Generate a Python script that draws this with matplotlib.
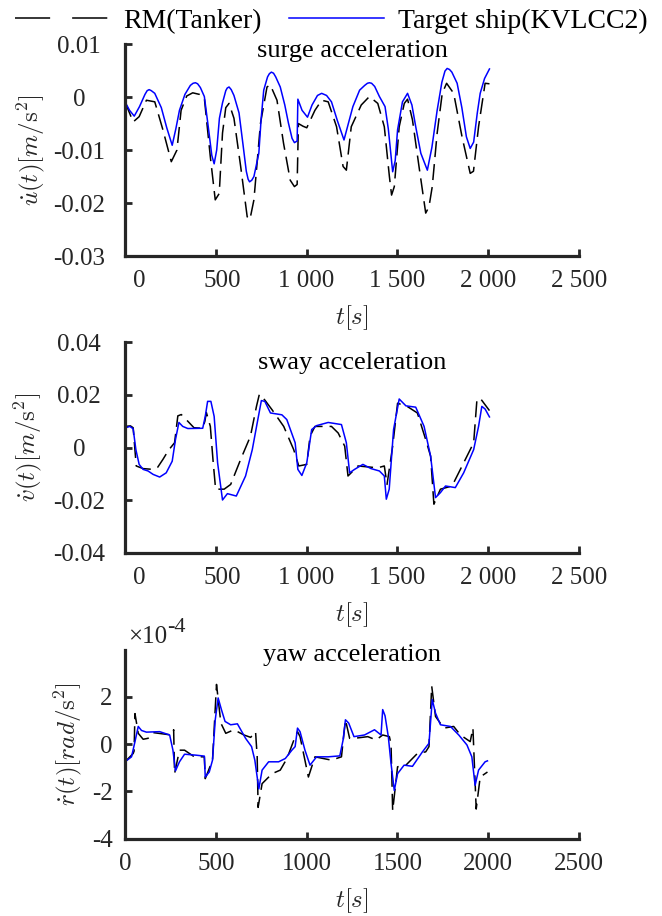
import numpy as np
import matplotlib
matplotlib.use('Agg')
import matplotlib.pyplot as plt
from matplotlib.lines import Line2D
from matplotlib.transforms import ScaledTranslation

plt.rcParams['font.family'] = 'serif'
plt.rcParams['font.serif'] = ['Liberation Serif', 'DejaVu Serif']
plt.rcParams['mathtext.fontset'] = 'cm'
plt.rcParams['axes.unicode_minus'] = False

# surge acceleration [m/s^2]
surge_t_rm = [0, 45, 78, 118, 164, 209, 255, 286, 309, 340, 373, 410, 437, 470, 497, 519, 537, 555, 573, 600,
              637, 673, 688, 710, 746, 782, 800, 837, 873, 910, 933, 948, 955, 980, 1001, 1046, 1083, 1119, 1165, 1201,
              1219, 1246, 1301, 1346, 1392, 1428, 1456, 1468, 1483, 1510, 1538, 1556, 1583, 1619, 1656, 1674, 1692, 1719, 1747, 1771,
              1810, 1856, 1901, 1919, 1947, 1983, 2007]
surge_rm = [-0.0009, -0.0047, -0.0037, -0.0006, -0.0009, -0.0062, -0.0122, -0.0100, -0.0025, 0.0002,
            0.0008, 0.0005, -0.0002, -0.0113, -0.0194, -0.0182, -0.0068, -0.0020, -0.0012, -0.0040,
            -0.0131, -0.0226, -0.0231, -0.0194, -0.0050, 0.0019, 0.0023, -0.0006, -0.0087, -0.0157,
            -0.0169, -0.0165, -0.0050, -0.0055, -0.0058, -0.0025, -0.0006, -0.0009, -0.0056, -0.0131,
            -0.0138, -0.0056, -0.0015, 0.0001, -0.0012, -0.0056, -0.0150, -0.0185, -0.0169, -0.0056,
            -0.0012, -0.0004, -0.0043, -0.0131, -0.0219, -0.0207, -0.0169, -0.0068, 0.0007, 0.0026,
            0.0007, -0.0075, -0.0144, -0.0140, -0.0056, 0.0026, 0.0025]
surge_t_ks = [0, 25, 51, 80, 110, 122, 133, 145, 164, 200, 230, 260, 280, 300, 330, 360, 375, 388, 400, 415,
              437, 460, 478, 491, 505, 520, 537, 555, 563, 573, 585, 600, 628, 650, 668, 678, 686, 698, 710, 737,
              750, 764, 785, 795, 806, 818, 830, 855, 880, 900, 920, 933, 948, 952, 975, 1005, 1030, 1060, 1083, 1110,
              1137, 1170, 1206, 1230, 1255, 1292, 1320, 1335, 1346, 1358, 1375, 1401, 1432, 1450, 1474, 1488, 1501, 1528, 1556, 1580,
              1601, 1629, 1665, 1690, 1719, 1745, 1762, 1774, 1787, 1800, 1829, 1855, 1880, 1901, 1920, 1940, 1956, 1980, 2007]
surge_ks = [-0.0009, -0.0025, -0.0036, -0.0018, 0.0005, 0.0012, 0.0014, 0.0012, 0.0007, -0.0020,
            -0.0058, -0.0091, -0.0060, -0.0025, 0.0005, 0.0022, 0.0026, 0.0027, 0.0025, 0.0018,
            0.0001, -0.0060, -0.0110, -0.0126, -0.0100, -0.0040, -0.0011, 0.0012, 0.0017, 0.0019,
            0.0014, 0.0003, -0.0030, -0.0090, -0.0140, -0.0155, -0.0160, -0.0157, -0.0150, -0.0106,
            -0.0040, 0.0013, 0.0038, 0.0044, 0.0047, 0.0045, 0.0038, 0.0019, -0.0015, -0.0049,
            -0.0078, -0.0086, -0.0083, -0.0004, -0.0025, -0.0038, -0.0015, 0.0003, 0.0007, 0.0003,
            -0.0009, -0.0045, -0.0081, -0.0050, -0.0018, 0.0013, 0.0022, 0.0026, 0.0027, 0.0026,
            0.0020, 0.0001, -0.0018, -0.0060, -0.0141, -0.0120, -0.0062, -0.0009, 0.0007, -0.0015,
            -0.0056, -0.0106, -0.0138, -0.0095, -0.0025, 0.0028, 0.0049, 0.0054, 0.0052, 0.0047,
            0.0026, -0.0020, -0.0075, -0.0097, -0.0085, -0.0030, 0.0007, 0.0035, 0.0053]

# sway acceleration [m/s^2]
sway_t_rm = [0, 30, 45, 62, 100, 155, 180, 209, 240, 273, 291, 310, 337, 380, 428, 440, 448, 470, 485, 499,
             546, 582, 637, 691, 724, 740, 770, 810, 874, 929, 957, 1001, 1019, 1046, 1137, 1174, 1210, 1228, 1283, 1392,
             1428, 1443, 1474, 1501, 1556, 1610, 1656, 1683, 1701, 1737, 1801, 1865, 1920, 1938, 1956, 2007]
sway_rm = [0.0080, 0.0082, 0.0075, -0.0070, -0.0080, -0.0083, -0.0075, -0.0045, -0.0010, 0.0018,
           0.0120, 0.0125, 0.0106, 0.0075, 0.0073, 0.0100, 0.0133, 0.0080, -0.0050, -0.0158,
           -0.0158, -0.0140, -0.0045, 0.0043, 0.0156, 0.0202, 0.0180, 0.0143, 0.0080, -0.0008,
           -0.0070, -0.0064, 0.0043, 0.0080, 0.0080, 0.0055, 0.0005, -0.0108, -0.0070, -0.0077,
           -0.0070, -0.0140, 0.0005, 0.0168, 0.0155, 0.0131, 0.0030, -0.0033, -0.0215, -0.0158,
           -0.0146, -0.0058, 0.0018, 0.0181, 0.0187, 0.0140]
sway_t_ks = [0, 27, 45, 60, 78, 100, 127, 155, 191, 227, 260, 278, 297, 318, 346, 428, 442, 455, 473, 491,
             510, 537, 564, 613, 664, 701, 728, 751, 770, 801, 864, 891, 937, 952, 974, 1001, 1028, 1055, 1119, 1192,
             1219, 1237, 1264, 1310, 1355, 1401, 1428, 1439, 1455, 1479, 1510, 1547, 1601, 1647, 1683, 1710, 1737, 1765, 1819, 1865,
             1920, 1947, 1965, 1983, 2007]
sway_ks = [0.0074, 0.0080, 0.0071, -0.0008, -0.0064, -0.0083, -0.0089, -0.0102, -0.0112, -0.0096,
           -0.0052, 0.0030, 0.0095, 0.0080, 0.0072, 0.0073, 0.0118, 0.0175, 0.0175, 0.0118,
           -0.0058, -0.0199, -0.0175, -0.0184, -0.0108, -0.0008, 0.0093, 0.0178, 0.0175, 0.0131,
           0.0124, 0.0106, 0.0018, -0.0083, -0.0106, -0.0058, 0.0068, 0.0083, 0.0095, 0.0087,
           0.0018, -0.0096, -0.0083, -0.0064, -0.0080, -0.0089, -0.0108, -0.0196, -0.0158, 0.0068,
           0.0184, 0.0158, 0.0153, 0.0080, -0.0033, -0.0190, -0.0171, -0.0146, -0.0152, -0.0096,
           -0.0008, 0.0080, 0.0156, 0.0146, 0.0116]

# yaw acceleration, in units of 1e-4 rad/s^2
yaw_t_rm = [0, 45, 50, 55, 73, 100, 127, 155, 255, 265, 268, 273, 300, 328, 382, 437, 442, 482, 504, 528,
            555, 600, 655, 692, 719, 728, 733, 755, 810, 855, 892, 937, 950, 964, 1010, 1046, 1137, 1192, 1214, 1237,
            1264, 1337, 1383, 1419, 1456, 1465, 1474, 1501, 1547, 1610, 1656, 1674, 1689, 1710, 1756, 1810, 1847, 1901, 1916, 1923,
            1934, 1956, 1996]
yaw_rm = [-0.75, -0.40, -0.30, 1.28, 0.45, 0.20, 0.24, 0.48, 0.38, 0.45,
          0.60, -1.25, -0.26, -0.26, -0.54, -0.54, -1.46, -0.68, 2.51, 0.88,
          0.45, 0.60, 0.38, 0.28, 0.52, -0.54, -2.67, -1.67, -1.25, -1.10,
          -0.61, 0.31, 0.52, 0.31, -1.39, -0.54, -0.68, -0.54, 1.02, 0.24,
          0.24, 0.31, 0.17, 0.38, 0.31, 0.00, -2.81, -0.96, -0.89, -0.40,
          -0.33, -0.11, 2.44, 1.16, 0.67, 0.74, 0.38, 0.10, 0.67, -0.68,
          -2.74, -1.39, -1.18]
yaw_t_ks = [0, 36, 55, 73, 91, 118, 191, 246, 264, 278, 300, 328, 391, 437, 442, 464, 482, 497, 513, 531,
            551, 582, 619, 664, 697, 715, 737, 755, 791, 846, 883, 919, 937, 950, 964, 991, 1019, 1055, 1119, 1183,
            1201, 1214, 1232, 1261, 1319, 1374, 1410, 1419, 1432, 1450, 1465, 1483, 1501, 1537, 1583, 1638, 1674, 1692, 1710, 1737,
            1792, 1838, 1883, 1910, 1928, 1947, 1983, 1996]
yaw_ks = [-0.75, -0.54, 0.10, 0.74, 0.57, 0.50, 0.52, 0.38, -0.26, -1.13,
          -0.75, -0.43, -0.47, -0.51, -1.39, -1.18, -0.68, 1.02, 1.94, 1.45,
          0.95, 0.81, 0.85, 0.24, -0.11, -0.68, -1.89, -1.10, -0.75, -0.75,
          -0.61, -0.26, -0.11, 0.67, 0.52, -0.26, -0.89, -0.54, -0.54, -0.50,
          0.17, 1.02, 0.88, 0.31, 0.38, 0.60, 0.38, 1.45, 1.19, 0.31,
          -0.82, -1.96, -1.25, -0.89, -0.94, -0.33, 0.03, 1.87, 1.30, 0.81,
          0.74, 0.38, -0.04, -0.54, -1.74, -1.10, -0.75, -0.71]

x_ticks = [0, 500, 1000, 1500, 2000, 2500]
x_labels_sp = ['0', '500', '1 000', '1 500', '2 000', '2 500']
x_labels = ['0', '500', '1000', '1500', '2000', '2500']

fs = 18
ink = '#262626'
lw = 1.1
dash = (10.5, 4.6)

fig = plt.figure(figsize=(6.62, 9.16), dpi=100)
ax1 = fig.add_axes([0.1888, 0.7205, 0.6858, 0.2314])
ax2 = fig.add_axes([0.1888, 0.3963, 0.6858, 0.2303])
ax3 = fig.add_axes([0.1888, 0.0841, 0.6858, 0.2063])


def style(ax):
    for s in ['top', 'right']:
        ax.spines[s].set_visible(False)
    for s in ['left', 'bottom']:
        ax.spines[s].set_linewidth(2.3)
        ax.spines[s].set_color(ink)
    ax.tick_params(direction='in', length=5, width=2, colors=ink, labelsize=fs)
    ax.tick_params(axis='x', pad=10)
    ax.set_xlim(0, 2500)


ax1.plot(surge_t_rm, surge_rm, color='black', lw=lw, dashes=dash)
ax1.plot(surge_t_ks, surge_ks, color='#0000ff', lw=lw)
ax2.plot(sway_t_rm, sway_rm, color='black', lw=lw, dashes=dash)
ax2.plot(sway_t_ks, sway_ks, color='#0000ff', lw=lw)
ax3.plot(yaw_t_rm, np.array(yaw_rm) * 1e-4, color='black', lw=lw, dashes=dash)
ax3.plot(yaw_t_ks, np.array(yaw_ks) * 1e-4, color='#0000ff', lw=lw)

for ax in (ax1, ax2, ax3):
    style(ax)

ax1.set_ylim(-0.03, 0.01)
ax1.set_yticks([-0.03, -0.02, -0.01, 0, 0.01], ['-0.03', '-0.02', '-0.01', '0', '0.01'])
ax2.set_ylim(-0.04, 0.04)
ax2.set_yticks([-0.04, -0.02, 0, 0.02, 0.04], ['-0.04', '-0.02', '0', '0.02', '0.04'])
ax3.set_ylim(-4e-4, 3.96e-4)
ax3.set_yticks([-4e-4, -2e-4, 0, 2e-4], ['-4', '-2', '0', '2'])

# exponent marker above the yaw axis
exp_base = ax3.text(0.006, 1.012, '\u00d710', transform=ax3.transAxes, ha='left', va='bottom',
                    fontsize=fs, color=ink)
ax3.annotate('-4', xy=(1, 0.5), xycoords=exp_base, ha='left', va='bottom', fontsize=16, color=ink)

for ax in (ax1, ax2):
    ax.set_xticks(x_ticks, x_labels_sp)
    ax.tick_params(axis='y', pad=33)
    for lab in ax.get_yticklabels():
        lab.set_horizontalalignment('center')
    # the first two labels sit a little to the right in the original
    for lab, dx in zip(ax.get_xticklabels(), [10, 5, 0, 0, 0, 0]):
        lab.set_transform(lab.get_transform() + ScaledTranslation(dx / 72, 0, fig.dpi_scale_trans))
ax3.set_xticks(x_ticks, x_labels)
ax3.tick_params(axis='y', pad=9)

titles = ['surge acceleration', 'sway acceleration', 'yaw acceleration']
title_y = [0.967, 0.90, 0.974]
ylabels = [r'$\dot{u}(t)[m/\mathrm{s}^2]$', r'$\dot{v}(t)[m/\mathrm{s}^2]$', r'$\dot{r}(t)[rad/\mathrm{s}^2]$']
ylabel_x = [-0.207, -0.214, -0.1256]
xlabel_y = [-0.292, -0.294, -0.328]
for ax, tt, ty, yl, yx, xy in zip((ax1, ax2, ax3), titles, title_y, ylabels, ylabel_x, xlabel_y):
    ax.text(0.5, ty, tt, transform=ax.transAxes, ha='center', va='center', fontsize=19, color='black')
    ax.set_ylabel(yl, fontsize=fs, color=ink, va='center')
    ax.yaxis.set_label_coords(yx, 0.5)
    ax.set_xlabel(r'$t[s]$', fontsize=fs, color=ink, va='center')
    ax.xaxis.set_label_coords(0.5, xy)

h_rm = Line2D([], [], color='black', lw=lw, dashes=(23, 14.4))
h_ks = Line2D([], [], color='#0000ff', lw=lw)
fig.legend([h_rm, h_ks], ['RM(Tanker)', 'Target ship(KVLCC2)'], loc='center',
           bbox_to_anchor=(0.5, 1 - 21 / 916), ncol=2, frameon=False, fontsize=20,
           handlelength=3.4, handletextpad=0.5, columnspacing=1.0, borderpad=0, borderaxespad=0)

fig.savefig('out.png', dpi=100)
